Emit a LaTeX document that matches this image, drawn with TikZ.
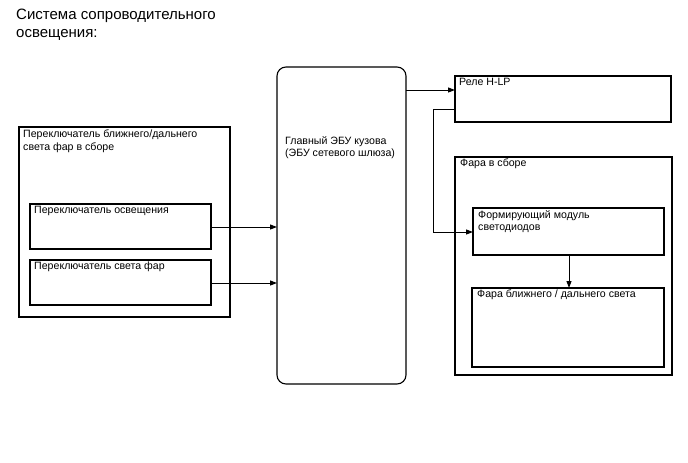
\documentclass[tikz,border=0pt]{standalone}
\usepackage{fontspec}
\setmainfont{Liberation Sans}
\usetikzlibrary{arrows.meta}
\begin{document}
\begin{tikzpicture}[x=1pt,y=-1pt,
  box/.style={draw,line width=1.1pt},
  nbox/.style={box,anchor=north west,inner sep=0pt,outer sep=0pt},
  lbl/.style={anchor=north west,inner sep=0pt,font=\fontsize{10.6}{12.5}\selectfont,align=left},
  conn/.style={line width=1pt,-{Triangle[length=7pt,width=5pt]}}]
\useasboundingbox (0,0) rectangle (688,463);
\node[lbl,font=\fontsize{15}{17.5}\selectfont] (title) at (16,9) {Система сопроводительного\\освещения:};
% left group
\node[nbox,minimum width=211,minimum height=190] (swbox) at (19,127) {};
\node[lbl] (swassy) at (23,130) {Переключатель ближнего/дальнего\\света фар в сборе};
\node[nbox,minimum width=181,minimum height=45] (lsw) at (30,204) {};
\node[lbl] (lswt) at (34,206) {Переключатель освещения};
\node[nbox,minimum width=181,minimum height=45] (hsw) at (30,260) {};
\node[lbl] (hswt) at (34,262) {Переключатель света фар};
% ECU
\node[nbox,rounded corners=9pt,minimum width=129,minimum height=317] (ecu) at (277,67) {};
\node[lbl] (ecut) at (285,136) {Главный ЭБУ кузова\\(ЭБУ сетевого шлюза)};
% relay
\node[nbox,minimum width=216,minimum height=46] (relay) at (455,76) {};
\node[lbl] (relayt) at (459,78) {Реле H-LP};
% headlight assy
\node[nbox,minimum width=217,minimum height=218] (hlbox) at (455,157) {};
\node[lbl] (hlt) at (460,159) {Фара в сборе};
\node[nbox,minimum width=191,minimum height=47] (led) at (473,208) {};
\node[lbl] (ledt) at (478,210) {Формирующий модуль\\светодиодов};
\node[nbox,minimum width=192,minimum height=79] (lamp) at (472,288) {};
\node[lbl] (lampt) at (477,290) {Фара ближнего / дальнего света};
% connectors
\draw[conn] (lsw.east|-0,227) -- (ecu.west|-0,227);
\draw[conn] (hsw.east|-0,283) -- (ecu.west|-0,283);
\draw[conn] (ecu.east|-0,90) -- (relay.west|-0,90);
\coordinate (c1) at (433,109);
\coordinate (c2) at (433,232);
\draw[conn] (relay.west|-c1) -- (c1) -- (c2) -- (led.west|-c2);
\draw[conn] (led.south-|569,0) -- (lamp.north-|569,0);
\end{tikzpicture}
\end{document}
